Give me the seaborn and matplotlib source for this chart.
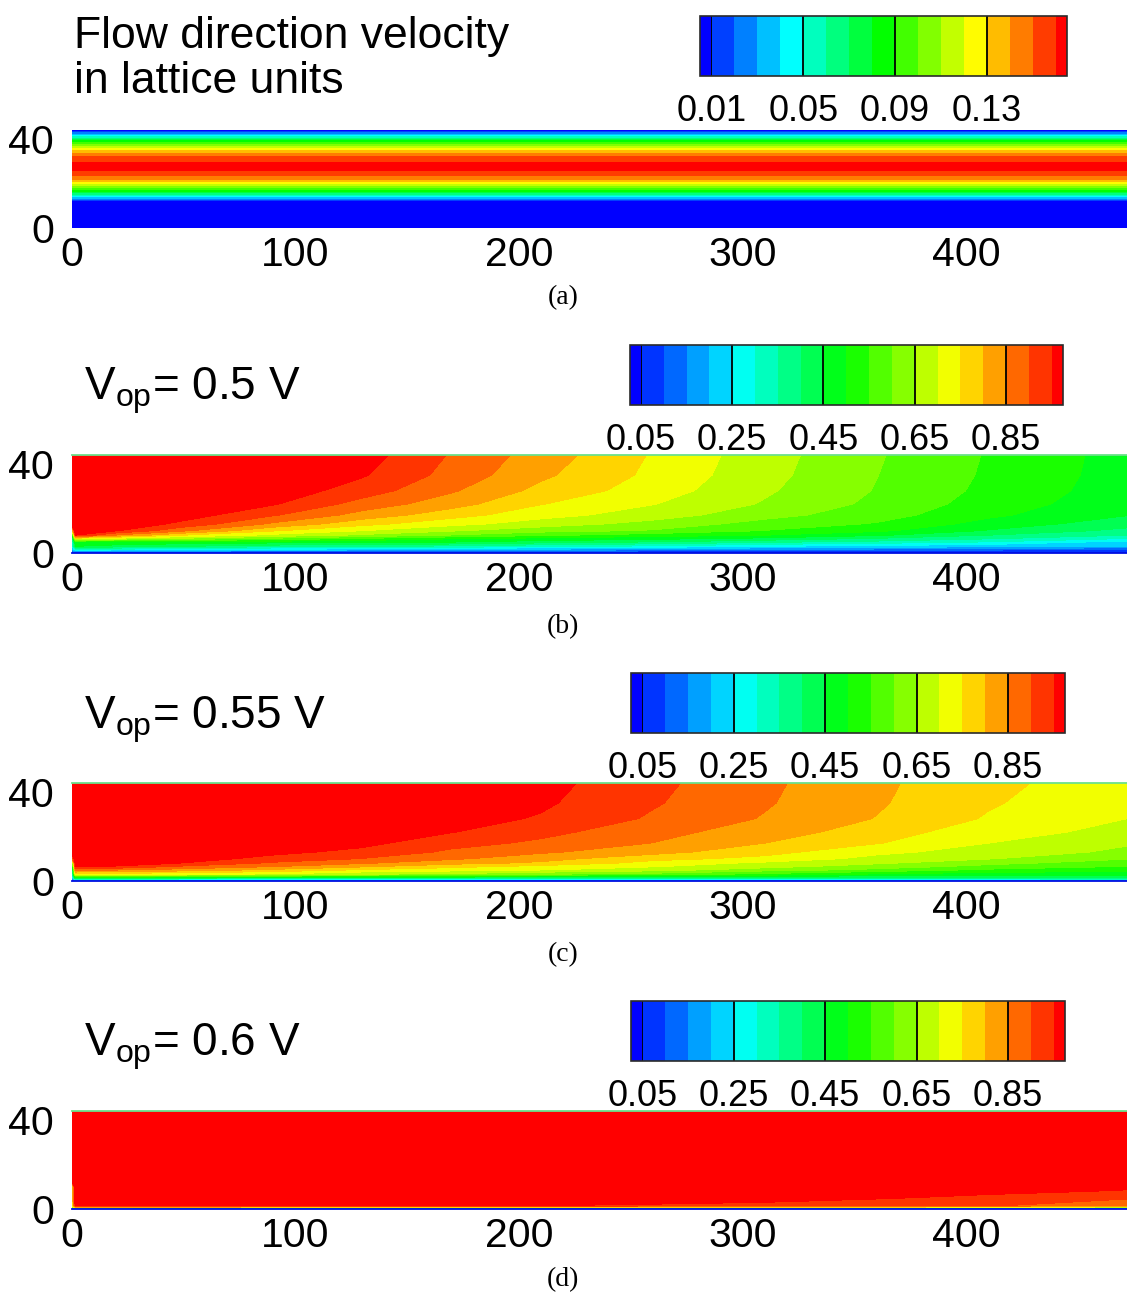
import numpy as np
import matplotlib
matplotlib.use("Agg")
import matplotlib.pyplot as plt
import seaborn as sns
from matplotlib.colors import ListedColormap, BoundaryNorm

sns.set_theme(style="white")
plt.rcParams["font.family"] = ["Liberation Sans", "DejaVu Sans"]
plt.rcParams["mathtext.fontset"] = "custom"
plt.rcParams["mathtext.rm"] = "Liberation Sans"
plt.rcParams["mathtext.it"] = "Liberation Sans:italic"
plt.rcParams["mathtext.bf"] = "Liberation Sans:bold"
for key in ["text.color", "axes.labelcolor", "xtick.color", "ytick.color"]:
    plt.rcParams[key] = "black"

W, H = 1127, 1296

# ---------------------------------------------------------------------------
# Panel (a): flow-direction velocity across the channel (uniform along x)
# ---------------------------------------------------------------------------
vel_x = [0, 472]
vel_y = [0, 11.6, 12.5, 14, 16, 18, 20, 22, 24, 26, 27.8, 29.5, 31.5,
         33.5, 35.5, 37.5, 39.5, 41.5, 43, 44]
vel_u = [0, 0, 0.018, 0.045, 0.077, 0.103, 0.125, 0.142, 0.154, 0.161,
         0.163, 0.161, 0.155, 0.143, 0.126, 0.105, 0.078, 0.046, 0.020, 0]
vel_levels = [0.01, 0.02, 0.03, 0.04, 0.05, 0.06, 0.07, 0.08, 0.09, 0.10,
              0.11, 0.12, 0.13, 0.14, 0.15, 0.16]
vel_ticks = [0.01, 0.05, 0.09, 0.13]
vel_ticklabels = ["0.01", "0.05", "0.09", "0.13"]

# ---------------------------------------------------------------------------
# Panels (b)-(d): normalised field sampled on a station grid
# each list below is one x station, values listed bottom (y=0) to top
# ---------------------------------------------------------------------------
x_stations = [0, 1.5, 20, 50, 90, 130, 170, 210, 260, 310, 360, 410, 472]
y_stations = [0, 0.6, 1.5, 3, 5, 6.5, 8, 10, 13, 17, 22, 28, 35, 44]

field_05V = [
    [0, 0.10, 0.20, 0.25, 0.28, 0.30, 0.40, 0.75, 1.0, 1.0, 1.0, 1.0, 1.0, 1.0],
    [0, 0.13, 0.29, 0.45, 0.495, 0.725, 0.95, 0.995, 1.0, 1.0, 1.0, 1.0, 1.0, 1.0],
    [0, 0.12, 0.275, 0.43, 0.49, 0.685, 0.845, 0.952, 0.99, 1.0, 1.0, 1.0, 1.0, 1.0],
    [0, 0.11, 0.26, 0.40, 0.485, 0.64, 0.75, 0.858, 0.935, 0.975, 0.99, 0.998, 1.0, 1.0],
    [0, 0.10, 0.23, 0.37, 0.476, 0.59, 0.685, 0.755, 0.84, 0.905, 0.955, 0.982, 0.994, 1.0],
    [0, 0.095, 0.22, 0.35, 0.465, 0.545, 0.64, 0.70, 0.765, 0.83, 0.88, 0.925, 0.955, 0.972],
    [0, 0.085, 0.195, 0.34, 0.455, 0.505, 0.597, 0.655, 0.715, 0.77, 0.82, 0.856, 0.882, 0.895],
    [0, 0.08, 0.18, 0.31, 0.428, 0.485, 0.56, 0.617, 0.675, 0.718, 0.752, 0.785, 0.81, 0.826],
    [0, 0.068, 0.16, 0.288, 0.40, 0.467, 0.523, 0.595, 0.63, 0.675, 0.702, 0.725, 0.738, 0.745],
    [0, 0.058, 0.145, 0.25, 0.363, 0.437, 0.50, 0.548, 0.58, 0.617, 0.645, 0.657, 0.666, 0.671],
    [0, 0.052, 0.13, 0.23, 0.335, 0.396, 0.457, 0.51, 0.545, 0.572, 0.588, 0.597, 0.601, 0.605],
    [0, 0.046, 0.115, 0.215, 0.30, 0.356, 0.40, 0.445, 0.48, 0.51, 0.528, 0.538, 0.543, 0.546],
    [0, 0.038, 0.086, 0.20, 0.233, 0.30, 0.35, 0.385, 0.42, 0.452, 0.466, 0.474, 0.478, 0.48],
]

field_055V = [
    [0, 0.10, 0.20, 0.25, 0.28, 0.35, 0.55, 0.85, 1.0, 1.0, 1.0, 1.0, 1.0, 1.0],
    [0, 0.25, 0.48, 0.72, 0.875, 0.96, 0.99, 1.0, 1.0, 1.0, 1.0, 1.0, 1.0, 1.0],
    [0, 0.24, 0.46, 0.72, 0.855, 0.945, 0.975, 0.99, 1.0, 1.0, 1.0, 1.0, 1.0, 1.0],
    [0, 0.23, 0.44, 0.705, 0.83, 0.89, 0.948, 0.97, 0.985, 0.995, 1.0, 1.0, 1.0, 1.0],
    [0, 0.22, 0.43, 0.69, 0.79, 0.852, 0.89, 0.935, 0.962, 0.98, 0.99, 1.0, 1.0, 1.0],
    [0, 0.22, 0.42, 0.65, 0.745, 0.808, 0.855, 0.898, 0.937, 0.963, 0.98, 0.99, 0.997, 1.0],
    [0, 0.22, 0.41, 0.635, 0.722, 0.765, 0.815, 0.858, 0.89, 0.918, 0.952, 0.97, 0.982, 0.99],
    [0, 0.22, 0.40, 0.60, 0.703, 0.733, 0.79, 0.818, 0.858, 0.89, 0.915, 0.945, 0.958, 0.967],
    [0, 0.22, 0.40, 0.575, 0.672, 0.703, 0.73, 0.765, 0.818, 0.849, 0.867, 0.893, 0.905, 0.913],
    [0, 0.22, 0.40, 0.532, 0.622, 0.668, 0.688, 0.736, 0.767, 0.80, 0.825, 0.846, 0.855, 0.86],
    [0, 0.23, 0.40, 0.49, 0.588, 0.623, 0.657, 0.683, 0.713, 0.753, 0.775, 0.798, 0.806, 0.81],
    [0, 0.24, 0.40, 0.47, 0.54, 0.585, 0.612, 0.653, 0.677, 0.70, 0.72, 0.745, 0.755, 0.763],
    [0, 0.26, 0.42, 0.472, 0.515, 0.548, 0.575, 0.603, 0.64, 0.655, 0.685, 0.70, 0.712, 0.72],
]

field_06V = [
    [0, 0.55, 0.70, 0.72, 0.72, 0.72, 0.72, 0.73, 1.0, 1.0, 1.0, 1.0, 1.0, 1.0],
    [0, 0.75, 0.96, 0.99, 1.0, 1.0, 1.0, 1.0, 1.0, 1.0, 1.0, 1.0, 1.0, 1.0],
    [0, 0.74, 0.96, 0.985, 0.993, 0.997, 1.0, 1.0, 1.0, 1.0, 1.0, 1.0, 1.0, 1.0],
    [0, 0.73, 0.958, 0.982, 0.99, 0.995, 0.998, 1.0, 1.0, 1.0, 1.0, 1.0, 1.0, 1.0],
    [0, 0.72, 0.955, 0.978, 0.987, 0.992, 0.996, 0.998, 1.0, 1.0, 1.0, 1.0, 1.0, 1.0],
    [0, 0.72, 0.953, 0.975, 0.984, 0.99, 0.994, 0.997, 0.999, 1.0, 1.0, 1.0, 1.0, 1.0],
    [0, 0.71, 0.952, 0.972, 0.981, 0.987, 0.992, 0.995, 0.998, 1.0, 1.0, 1.0, 1.0, 1.0],
    [0, 0.71, 0.951, 0.968, 0.978, 0.984, 0.989, 0.993, 0.996, 0.998, 1.0, 1.0, 1.0, 1.0],
    [0, 0.70, 0.94, 0.962, 0.972, 0.978, 0.984, 0.989, 0.993, 0.996, 0.998, 1.0, 1.0, 1.0],
    [0, 0.69, 0.93, 0.95, 0.963, 0.971, 0.978, 0.984, 0.989, 0.993, 0.996, 0.998, 0.999, 1.0],
    [0, 0.68, 0.915, 0.935, 0.955, 0.964, 0.972, 0.979, 0.985, 0.99, 0.994, 0.997, 0.998, 0.999],
    [0, 0.66, 0.905, 0.92, 0.938, 0.95, 0.96, 0.968, 0.977, 0.984, 0.99, 0.994, 0.996, 0.997],
    [0, 0.60, 0.865, 0.885, 0.905, 0.93, 0.947, 0.957, 0.966, 0.975, 0.982, 0.987, 0.99, 0.992],
]

field_levels = [0.05, 0.10, 0.15, 0.20, 0.25, 0.30, 0.35, 0.40, 0.45, 0.50,
                0.55, 0.60, 0.65, 0.70, 0.75, 0.80, 0.85, 0.90, 0.95]
field_ticks = [0.05, 0.25, 0.45, 0.65, 0.85]
field_ticklabels = ["0.05", "0.25", "0.45", "0.65", "0.85"]

voltages = ["0.5", "0.55", "0.6"]
captions = ["(a)", "(b)", "(c)", "(d)"]

x_ticks = [0, 100, 200, 300, 400]
y_ticks = [0, 40]

RAINBOW = ["#0000ff", "#00ffff", "#00ff00", "#ffff00", "#ff0000"]


def banded_cmap(levels):
    colors = sns.blend_palette(RAINBOW, n_colors=len(levels) + 1)
    cmap = ListedColormap(colors[1:-1])
    cmap.set_under(colors[0])
    cmap.set_over(colors[-1])
    return cmap, BoundaryNorm(levels, cmap.N)


def fig_rect(left, top, right, bottom):
    return [left / W, 1 - bottom / H, (right - left) / W, (bottom - top) / H]


fig = plt.figure(figsize=(W / 100, H / 100), dpi=100)
fig.patch.set_facecolor("white")

panel_bottoms = [228, 553, 881, 1209]
cbar_boxes = [(700, 16, 1067, 76), (629.6, 345, 1063, 404.6),
              (631, 673, 1065, 732.6), (631, 1001, 1065, 1060.6)]
caption_y = [298, 627, 955, 1280]
label_baseline = [None, 400, 728, 1056]


def style_axes(ax, walls):
    ax.set_xlim(0, 472)
    ax.set_ylim(0, 44)
    ax.set_xticks(x_ticks)
    ax.set_yticks(y_ticks)
    ax.tick_params(which="both", length=0, labelsize=29.5, colors="black")
    ax.tick_params(axis="x", pad=6)
    ax.tick_params(axis="y", pad=13)
    ax.grid(False)
    for sp in ax.spines.values():
        sp.set_visible(False)
    if walls:
        ax.spines["top"].set_visible(True)
        ax.spines["top"].set_color("#6be08a")
        ax.spines["top"].set_linewidth(1.3)
        ax.spines["bottom"].set_visible(True)
        ax.spines["bottom"].set_color("#0010e0")
        ax.spines["bottom"].set_linewidth(1.3)


def add_colorbar(cs, box, ticks, labels, nbands):
    cax = fig.add_axes(fig_rect(*box))
    cb = fig.colorbar(cs, cax=cax, orientation="horizontal", extendrect=True,
                      extendfrac=0.5 / nbands, ticks=ticks)
    cb.minorticks_off()
    cb.set_ticklabels(labels)
    cb.outline.set_edgecolor("#2b2b2b")
    cb.outline.set_linewidth(1.2)
    cax.tick_params(which="both", length=0, pad=13, labelsize=26, colors="black")
    for t in ticks:
        cax.axvline(t, color="black", lw=1.3)
    return cb


# panel (a)
cmap_a, norm_a = banded_cmap(vel_levels)
ax = fig.add_axes(fig_rect(72, panel_bottoms[0] - 98, 1127, panel_bottoms[0]))
U = np.tile(np.array(vel_u)[:, None], (1, len(vel_x)))
cs = ax.contourf(vel_x, vel_y, U, levels=vel_levels, cmap=cmap_a, norm=norm_a,
                 extend="both", antialiased=False)
style_axes(ax, walls=False)
add_colorbar(cs, cbar_boxes[0], vel_ticks, vel_ticklabels, len(vel_levels) - 1)
fig.text(74 / W, 1 - 48 / H, "Flow direction velocity", fontsize=32,
         ha="left", va="baseline")
fig.text(74 / W, 1 - 93 / H, "in lattice units", fontsize=32,
         ha="left", va="baseline")

# panels (b)-(d)
cmap_f, norm_f = banded_cmap(field_levels)
for i, (cols, volt) in enumerate(zip([field_05V, field_055V, field_06V], voltages), start=1):
    ax = fig.add_axes(fig_rect(72, panel_bottoms[i] - 98, 1127, panel_bottoms[i]))
    Z = np.array(cols, dtype=float).T
    cs = ax.contourf(x_stations, y_stations, Z, levels=field_levels, cmap=cmap_f,
                     norm=norm_f, extend="both", antialiased=False)
    style_axes(ax, walls=True)
    add_colorbar(cs, cbar_boxes[i], field_ticks, field_ticklabels, len(field_levels) - 1)
    fig.text(84 / W, 1 - label_baseline[i] / H, r"$\mathrm{V_{op}}$= " + volt + " V",
             fontsize=33, ha="left", va="baseline")

for cap, cy in zip(captions, caption_y):
    fig.text(563 / W, 1 - cy / H, cap, fontsize=20, family=["Liberation Serif"],
             ha="center", va="center")

fig.savefig("out.png", dpi=100)
